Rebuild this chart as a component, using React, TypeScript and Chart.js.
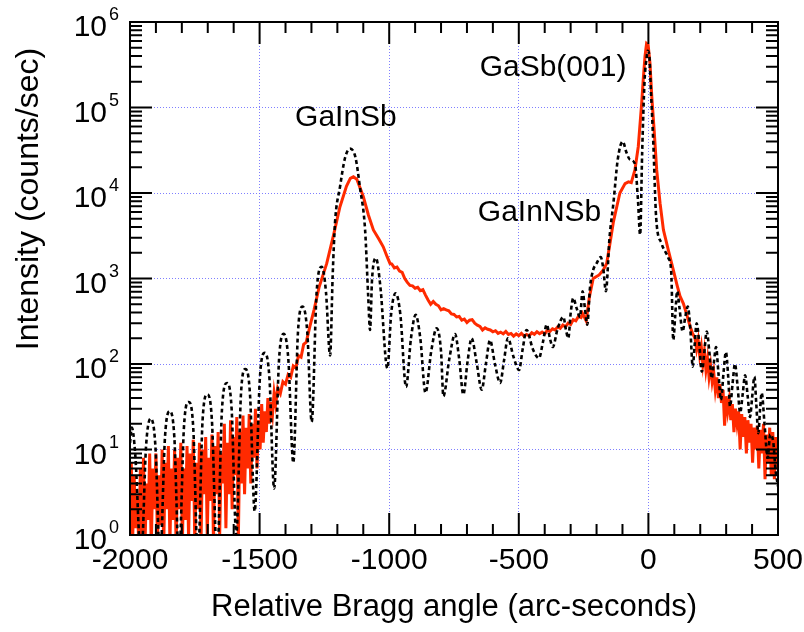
import { useEffect, useRef } from 'react';
import { Chart, registerables } from 'chart.js';

Chart.register(...registerables);

// ---- Axis ranges & tick labels ----
const X_MIN = -2000;
const X_MAX = 500;
const Y_MIN = 1;
const Y_MAX = 1000000;
const xTickValues = [-2000, -1500, -1000, -500, 0, 500];
const yTickValues = [1, 10, 100, 1000, 10000, 100000, 1000000];
const yTickBase = '10';
const yTickExponents = ['0', '1', '2', '3', '4', '5', '6'];
const xTitle = 'Relative Bragg angle (arc-seconds)';
const yTitle = 'Intensity (counts/sec)';

// ---- Peak labels (data coordinates) ----
const peakLabels = ['GaSb(001)', 'GaInNSb', 'GaInSb'];
const peakLabelX = [-368, -420, -1167];
const peakLabelY = [295000, 5800, 75000];

// ---- Simulated curve (black dotted): [arc-sec, counts/sec] ----
const simulated: [number, number][] = [
  [-2000, 12], [-1993, 18], [-1980, 9], [-1957, 0.5], [-1938, 11], [-1920, 23], [-1902, 11],
  [-1884, 0.5], [-1865, 14], [-1847, 28], [-1829, 14], [-1811, 0.5], [-1792, 18], [-1774, 36],
  [-1756, 18], [-1738, 0.5], [-1720, 22], [-1702, 44], [-1684, 22], [-1664, 0.5], [-1645, 30],
  [-1626, 60], [-1608, 30], [-1590, 1.0], [-1572, 44], [-1555, 87], [-1537, 44], [-1519, 1.9],
  [-1499, 68], [-1480, 135], [-1462, 68], [-1444, 3.5], [-1425, 112], [-1407, 225], [-1389, 112],
  [-1370, 7], [-1352, 235], [-1334, 470], [-1316, 235], [-1299, 21], [-1280, 690], [-1260, 1370],
  [-1244, 700], [-1228, 126], [-1218, 1100], [-1209, 4500], [-1190, 11700], [-1170, 26000],
  [-1151, 33000], [-1130, 26000], [-1113, 11700], [-1093, 3700], [-1081, 620], [-1074, 250],
  [-1066, 1000], [-1051, 1730], [-1034, 800], [-1007, 89], [-992, 400], [-975, 670], [-957, 380],
  [-935, 54], [-916, 200], [-898, 375], [-880, 200], [-860, 46], [-838, 140], [-817, 262],
  [-800, 140], [-791, 42], [-768, 115], [-746, 224], [-730, 115], [-714, 44], [-698, 105],
  [-682, 200], [-663, 105], [-643, 50], [-627, 100], [-611, 190], [-592, 100], [-572, 60],
  [-557, 110], [-542, 200], [-520, 120], [-499, 85], [-485, 150], [-470, 250], [-446, 150],
  [-422, 117], [-407, 180], [-392, 290], [-380, 200], [-369, 158], [-350, 260], [-328, 355],
  [-318, 250], [-309, 200], [-300, 390], [-290, 590], [-277, 450], [-264, 355], [-254, 710],
  [-245, 450], [-236, 288], [-225, 800], [-213, 1260], [-200, 1500], [-184, 1780], [-174, 1300],
  [-164, 710], [-150, 3000], [-135, 7600], [-118, 25000], [-99, 40000], [-85, 30000],
  [-71, 24500], [-52, 22000], [-40, 8000], [-32, 3240], [-24, 30000], [-15, 200000],
  [-6, 400000], [-3, 460000], [3, 420000], [10, 150000], [19, 38000], [30, 5100], [50, 2600],
  [77, 1740], [88, 1200], [96, 190], [103, 350], [111, 710], [120, 450], [132, 240], [142, 350],
  [152, 470], [162, 250], [171, 93], [178, 160], [186, 300], [196, 180], [206, 81], [215, 130],
  [225, 240], [235, 140], [244, 68], [252, 100], [261, 158], [270, 80], [280, 38], [290, 80],
  [299, 138], [308, 70], [315, 32], [325, 60], [334, 100], [344, 55], [354, 27], [364, 45],
  [373, 74], [383, 42], [392, 24], [400, 40], [409, 71], [416, 35], [424, 15.5], [431, 30],
  [437, 46], [448, 20], [460, 8], [470, 15], [482, 12], [490, 6], [500, 3.7],
];

// ---- Measured curve (red solid): [arc-sec, counts/sec] ----
const measured: [number, number][] = [
  [-2000, 1.5], [-1995, 7], [-1990, 0.8], [-1984, 5], [-1978, 1.2], [-1972, 3], [-1966, 0.7],
  [-1960, 6], [-1954, 1], [-1948, 8], [-1942, 0.8], [-1936, 4], [-1930, 1.5], [-1924, 9],
  [-1918, 0.7], [-1912, 6], [-1906, 2], [-1900, 9], [-1894, 0.8], [-1888, 5], [-1882, 1.3],
  [-1876, 10], [-1870, 0.7], [-1864, 7], [-1858, 2], [-1852, 11], [-1846, 0.8], [-1840, 6],
  [-1834, 1.5], [-1828, 10], [-1822, 0.7], [-1816, 8], [-1810, 2], [-1804, 12], [-1798, 0.8],
  [-1792, 6], [-1786, 1.5], [-1780, 11], [-1774, 0.9], [-1768, 9], [-1762, 2.5], [-1756, 13],
  [-1750, 0.8], [-1744, 7], [-1738, 2], [-1732, 12], [-1726, 0.8], [-1720, 10], [-1714, 3],
  [-1708, 14], [-1702, 1], [-1696, 8], [-1690, 2.5], [-1684, 15], [-1678, 0.8], [-1672, 11],
  [-1666, 3], [-1660, 16], [-1654, 1], [-1648, 9], [-1642, 4], [-1636, 20], [-1630, 1.2],
  [-1624, 12], [-1618, 3], [-1612, 22], [-1606, 2], [-1600, 14], [-1594, 5], [-1588, 24],
  [-1582, 0.9], [-1576, 16], [-1570, 4], [-1564, 25], [-1558, 3], [-1552, 18], [-1546, 6],
  [-1540, 26], [-1534, 4], [-1528, 20], [-1522, 8], [-1516, 30], [-1510, 6], [-1504, 22],
  [-1498, 10], [-1492, 34], [-1486, 12], [-1480, 28], [-1474, 16], [-1468, 40], [-1462, 20],
  [-1456, 36], [-1450, 26], [-1444, 46], [-1438, 34], [-1430, 52], [-1420, 45], [-1410, 62],
  [-1400, 58], [-1390, 75], [-1380, 70], [-1370, 95], [-1360, 90], [-1350, 125], [-1340, 120],
  [-1330, 170], [-1320, 180], [-1306, 275], [-1290, 430], [-1270, 800], [-1241, 1500],
  [-1215, 3200], [-1190, 6900], [-1165, 12000], [-1150, 14800], [-1138, 15500], [-1125, 14500],
  [-1110, 11000], [-1100, 9100], [-1080, 5500], [-1061, 3700], [-1040, 2900], [-1023, 2350],
  [-1008, 1800], [-997, 1500], [-990, 1480], [-980, 1330], [-970, 1360], [-960, 1220],
  [-950, 1180], [-940, 1000], [-930, 900], [-920, 830], [-910, 820], [-900, 770], [-890, 790],
  [-880, 720], [-870, 740], [-860, 640], [-850, 560], [-840, 500], [-830, 540], [-820, 500],
  [-810, 480], [-800, 430], [-790, 445], [-780, 430], [-770, 420], [-760, 385], [-750, 380],
  [-740, 355], [-730, 360], [-720, 325], [-710, 335], [-700, 305], [-690, 325], [-680, 330],
  [-670, 300], [-660, 285], [-650, 275], [-640, 250], [-630, 265], [-620, 255], [-610, 250],
  [-600, 238], [-590, 245], [-580, 228], [-570, 236], [-560, 225], [-550, 240], [-540, 222],
  [-530, 228], [-520, 212], [-510, 225], [-500, 215], [-490, 228], [-480, 212], [-470, 222],
  [-460, 214], [-450, 232], [-440, 222], [-430, 238], [-420, 226], [-410, 236], [-400, 225],
  [-390, 248], [-380, 240], [-370, 258], [-360, 250], [-350, 272], [-340, 262], [-330, 285],
  [-320, 272], [-310, 300], [-300, 290], [-290, 330], [-280, 320], [-270, 360], [-260, 350],
  [-254, 390], [-240, 320], [-228, 600],
  [-213, 1000], [-190, 1100], [-174, 1260], [-161, 1500], [-148, 2600], [-135, 4600],
  [-122, 6900], [-110, 10000], [-90, 12900], [-77, 13500], [-66, 13200], [-52, 18600],
  [-39, 35000], [-26, 112000], [-20, 210000], [-13, 400000], [-7, 560000], [-1, 540000],
  [6, 330000], [13, 135000], [22, 55000], [32, 18600], [45, 7600], [58, 3700], [77, 2140],
  [96, 1260], [110, 850], [122, 620], [135, 510], [150, 360], [161, 275], [170, 230],
  [180, 200], [186, 150], [192, 190], [198, 125], [204, 160], [210, 100], [216, 140], [222, 85],
  [228, 115], [234, 70], [240, 95], [246, 62], [252, 80], [258, 50], [264, 70], [270, 40],
  [276, 58], [282, 35], [288, 50], [294, 19], [300, 42], [306, 28], [312, 38], [318, 22],
  [324, 34], [330, 16], [336, 30], [342, 20], [348, 28], [354, 10], [360, 26], [366, 14],
  [372, 24], [378, 9], [384, 22], [390, 12], [396, 20], [402, 7], [408, 18], [414, 10],
  [420, 19], [426, 6], [432, 17], [438, 9], [444, 20], [450, 4.5], [456, 15], [462, 7],
  [468, 18], [474, 5], [480, 16], [486, 4.5], [492, 14], [498, 6], [500, 12],
];

const FONT = '"Liberation Sans", Arial, Helvetica, sans-serif';

const framePlugin = {
  id: 'frameAndLabels',
  afterDraw(chart: any) {
    const { ctx, chartArea: a, scales } = chart;
    const xs = scales.x;
    const ys = scales.y;
    ctx.save();
    ctx.strokeStyle = '#000';
    ctx.lineWidth = 2;
    ctx.beginPath();
    // x ticks (inward, top and bottom)
    for (let v = X_MIN; v <= X_MAX; v += 100) {
      const px = xs.getPixelForValue(v);
      const len = v % 500 === 0 ? 22 : 11;
      ctx.moveTo(px, a.bottom);
      ctx.lineTo(px, a.bottom - len);
      ctx.moveTo(px, a.top);
      ctx.lineTo(px, a.top + len);
    }
    // y ticks (inward, left and right)
    for (let d = Y_MIN; d <= Y_MAX; d *= 10) {
      for (let m = 1; m < 10; m++) {
        const v = d * m;
        if (v > Y_MAX) break;
        const py = ys.getPixelForValue(v);
        const len = m === 1 ? 22 : 12;
        ctx.moveTo(a.left, py);
        ctx.lineTo(a.left + len, py);
        ctx.moveTo(a.right, py);
        ctx.lineTo(a.right - len, py);
      }
    }
    ctx.stroke();
    ctx.strokeRect(a.left, a.top, a.right - a.left, a.bottom - a.top);

    ctx.fillStyle = '#000';

    // y tick labels: 10 with superscript exponent
    yTickValues.forEach((v, i) => {
      const py = ys.getPixelForValue(v);
      ctx.textBaseline = 'alphabetic';
      ctx.font = `30px ${FONT}`;
      ctx.textAlign = 'right';
      ctx.fillText(yTickBase, a.left - 23, py + 14);
      ctx.font = `18px ${FONT}`;
      ctx.textAlign = 'left';
      ctx.fillText(yTickExponents[i], a.left - 21, py - 2);
    });

    // peak labels
    ctx.font = `30px ${FONT}`;
    ctx.textAlign = 'center';
    ctx.textBaseline = 'middle';
    peakLabels.forEach((t, i) => {
      ctx.fillText(t, xs.getPixelForValue(peakLabelX[i]), ys.getPixelForValue(peakLabelY[i]));
    });

    // y axis title
    ctx.translate(29, 199);
    ctx.rotate(-Math.PI / 2);
    ctx.font = `32px ${FONT}`;
    ctx.fillText(yTitle, 0, 0);
    ctx.restore();
  },
};

export default function App() {
  const canvasRef = useRef<HTMLCanvasElement | null>(null);

  useEffect(() => {
    if (!canvasRef.current) return;
    const chart = new Chart(canvasRef.current, {
      type: 'line',
      data: {
        datasets: [
          {
            label: 'Simulation',
            data: simulated.map(([x, y]) => ({ x, y })),
            borderColor: '#000000',
            borderWidth: 2.6,
            borderDash: [4, 3],
            pointRadius: 0,
            fill: false,
            cubicInterpolationMode: 'monotone',
            order: 0,
          },
          {
            label: 'Measured',
            data: measured.map(([x, y]) => ({ x, y })),
            borderColor: '#ff2a00',
            borderWidth: 3,
            pointRadius: 0,
            fill: false,
            tension: 0,
            order: 1,
          },
        ],
      },
      options: {
        animation: false,
        responsive: true,
        maintainAspectRatio: false,
        events: [],
        layout: { padding: { top: 22, right: 26, left: 0, bottom: 0 } },
        plugins: {
          legend: { display: false },
          tooltip: { enabled: false },
        },
        scales: {
          x: {
            type: 'linear',
            min: X_MIN,
            max: X_MAX,
            afterBuildTicks: (s: any) => {
              s.ticks = xTickValues.map((v) => ({ value: v }));
            },
            afterFit: (s: any) => {
              s.height = 97;
              s.paddingLeft = 0;
              s.paddingRight = 0;
            },
            ticks: {
              color: '#000',
              font: { family: FONT, size: 30 },
              padding: 8,
              maxRotation: 0,
              autoSkip: false,
              callback: (v: any) => String(v),
            },
            grid: { color: 'rgba(105,105,255,0.85)', lineWidth: 1, drawTicks: false },
            border: { display: false, dash: [1, 2] },
            title: {
              display: true,
              text: xTitle,
              color: '#000',
              font: { family: FONT, size: 31 },
              padding: { top: 0, bottom: 6 },
            },
          },
          y: {
            type: 'logarithmic',
            min: Y_MIN,
            max: Y_MAX,
            afterBuildTicks: (s: any) => {
              s.ticks = yTickValues.map((v) => ({ value: v }));
            },
            afterFit: (s: any) => {
              s.width = 130;
            },
            ticks: { display: false },
            grid: { color: 'rgba(105,105,255,0.85)', lineWidth: 1, drawTicks: false },
            border: { display: false, dash: [1, 2] },
          },
        },
      },
      plugins: [framePlugin],
    });
    return () => chart.destroy();
  }, []);

  return (
    <div style={{ position: 'fixed', left: 0, top: 0, width: 804, height: 632, background: '#fff' }}>
      <canvas ref={canvasRef} />
    </div>
  );
}
